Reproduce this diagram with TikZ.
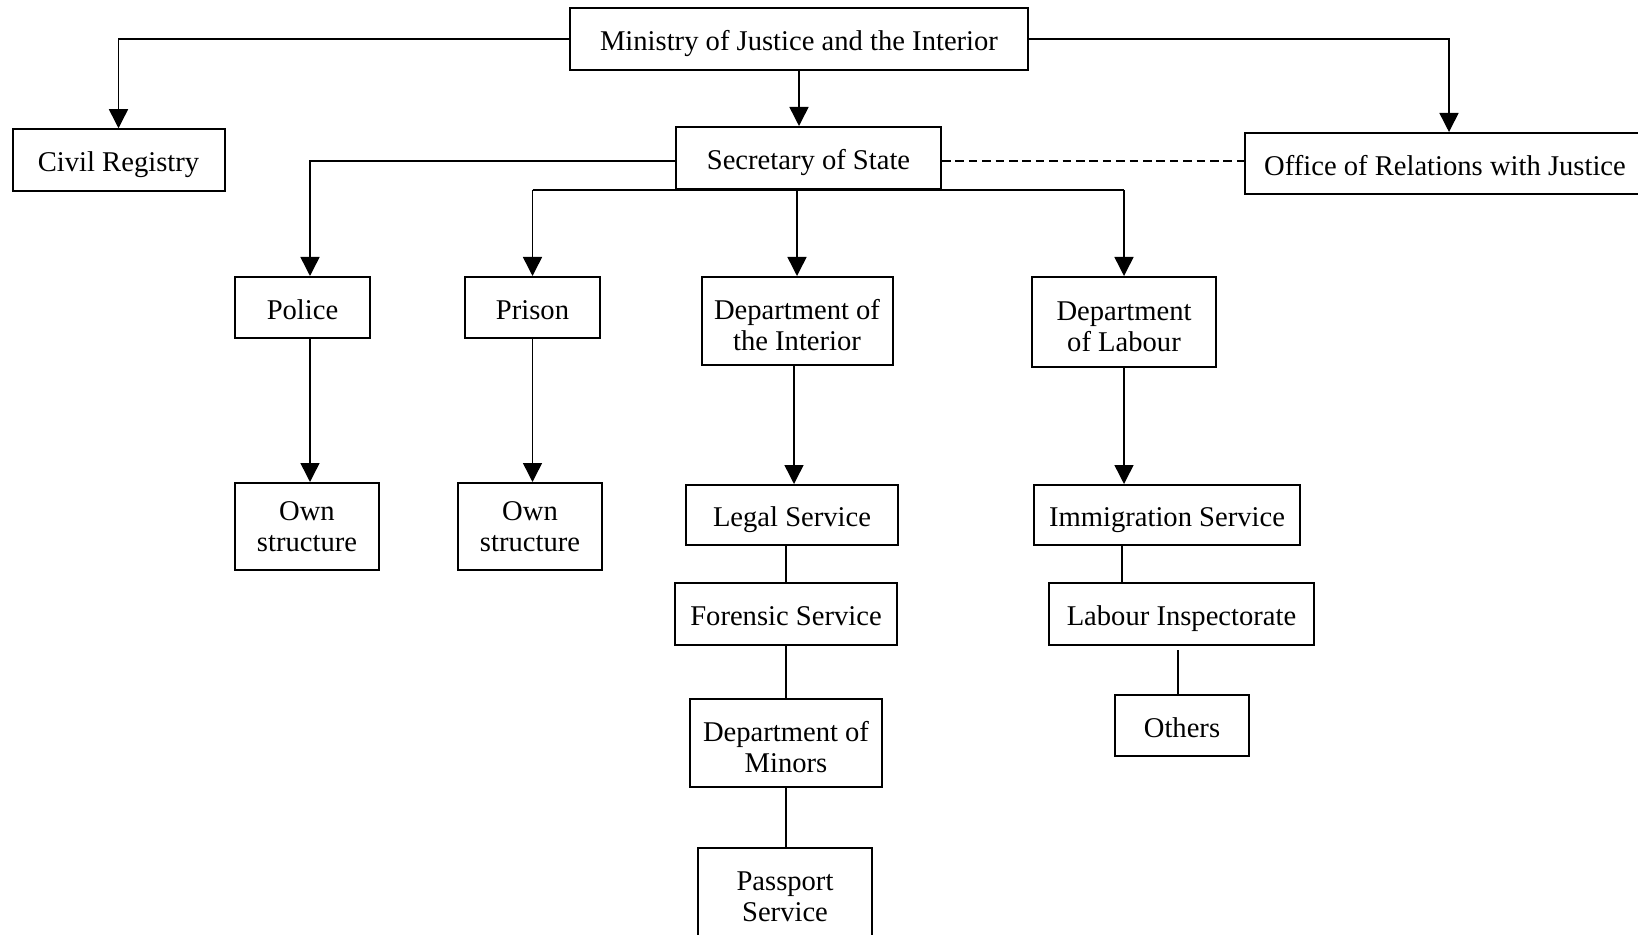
\documentclass[tikz,border=0pt]{standalone}
\usepackage{fontspec}
\setmainfont{Liberation Serif}
\usepackage{tikz}
\usetikzlibrary{calc}
\usetikzlibrary{arrows.meta}
\newcommand{\lineup}{\rule{0pt}{14pt}}
\tikzset{
  unit/.style={draw=black,line width=1pt,fill=white,inner sep=2pt,align=center,
    font=\fontsize{14.3}{15.4}\selectfont},
  one/.style={unit,
    execute at begin node={\rule{0pt}{15pt}},
    execute at end node={\rule[-3.2pt]{0pt}{0pt}}},
  link/.style={draw=black,line width=0.75pt},
  arr/.style={link,-{Triangle[length=9.5pt,width=9.5pt]}},
}
\begin{document}
\begin{tikzpicture}[x=0.5pt,y=-0.5pt]
\useasboundingbox (0,0) rectangle (1638,935);
\clip (0,0) rectangle (1638,935);
\node[one,minimum width=229pt,minimum height=31pt] (min) at (799,39) {Ministry of Justice and the Interior};
\node[one,minimum width=106pt,minimum height=30.75pt] (civ) at (118.5,160) {Civil Registry};
\node[one,minimum width=132.5pt,minimum height=31pt] (sec) at (808.5,158) {Secretary of State};
\node[one,minimum width=200pt,minimum height=30.5pt] (off) at (1445,163.5) {Office of Relations with Justice};
\node[one,minimum width=67.5pt,minimum height=30.5pt] (pol) at (302.5,307.5) {Police};
\node[one,minimum width=67.5pt,minimum height=30.5pt] (pri) at (532.5,307.5) {Prison};
\node[unit,minimum width=95.5pt,minimum height=44pt] (int) at (797,321) {\lineup Department of\\the Interior};
\node[unit,minimum width=92pt,minimum height=45pt] (lab) at (1124,322) {\lineup Department\\of Labour};
\node[unit,minimum width=72pt,minimum height=43.5pt] (own1) at (307,526.5) {Own\\structure};
\node[unit,minimum width=72pt,minimum height=43.5pt] (own2) at (530,526.5) {Own\\structure};
\node[one,minimum width=106pt,minimum height=30pt] (leg) at (792,515) {Legal Service};
\node[one,minimum width=111pt,minimum height=31pt] (for) at (786,614) {Forensic Service};
\node[unit,minimum width=96pt,minimum height=44pt] (mnr) at (786,743) {\lineup Department of\\Minors};
\node[unit,minimum width=87pt,minimum height=44pt] (pas) at (785,892) {\lineup Passport\\Service};
\node[one,minimum width=133pt,minimum height=30pt] (imm) at (1167,515) {Immigration Service};
\node[one,minimum width=132.5pt,minimum height=31pt] (lins) at (1181.5,614) {Labour Inspectorate};
\node[one,minimum width=67pt,minimum height=30.5pt] (oth) at (1182,725.5) {Others};
% ministry level
\draw[arr] (min.west) -| (civ.north);
\draw[arr] (min.south) -- (min.south |- sec.north);
\draw[arr] (min.east) -| ([xshift=2pt]off.north);
\draw[link,line width=1pt,dash pattern=on 4.3pt off 2.4pt] ([yshift=-1.5pt]sec.east) -- ([yshift=-1.5pt]sec.east -| off.west);
% secretary level
\draw[arr] ([yshift=-1.5pt]sec.west) -| ([xshift=3.75pt]pol.north);
\draw[link] (pri.north |- sec.south) -- (lab.north |- sec.south);
\draw[arr] (pri.north |- sec.south) -- (pri.north);
\draw[arr] (int.north |- sec.south) -- (int.north);
\draw[arr] (lab.north |- sec.south) -- (lab.north);
% below
\draw[arr] ([xshift=3.75pt]pol.south) -- ([xshift=3.75pt]pol.south |- own1.north);
\draw[arr] (pri.south) -- (pri.south |- own2.north);
\draw[arr] ([xshift=-1.5pt]int.south) -- ([xshift=-1.5pt]int.south |- leg.north);
\draw[arr] (lab.south) -- (lab.south |- imm.north);
\draw[link] (mnr.north |- leg.south) -- (mnr.north |- for.north);
\draw[link] (mnr.north |- for.south) -- (mnr.north);
\draw[link] (mnr.south) -- (mnr.south |- pas.north);
\draw[link] ([xshift=-1pt]lab.south |- imm.south) -- ([xshift=-1pt]lab.south |- lins.north);
\draw[link] ($(lins.south -| oth.north)+(-4,4)$) -- ([xshift=-2pt]oth.north);
\end{tikzpicture}
\end{document}
